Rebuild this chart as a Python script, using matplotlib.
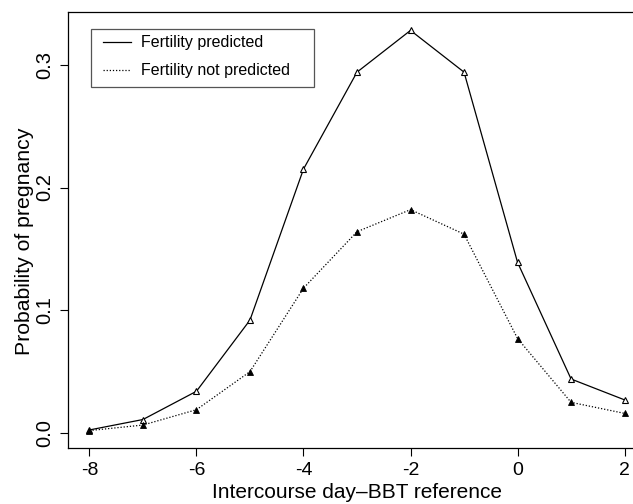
import matplotlib
matplotlib.use("Agg")
import matplotlib.pyplot as plt
from matplotlib.patches import Rectangle
from matplotlib.lines import Line2D

days = [-8, -7, -6, -5, -4, -3, -2, -1, 0, 1, 2]
predicted = [0.0025, 0.011, 0.034, 0.092, 0.215, 0.294, 0.328, 0.294, 0.139, 0.044, 0.027]
not_predicted = [0.002, 0.0065, 0.019, 0.050, 0.118, 0.164, 0.182, 0.162, 0.077, 0.025, 0.016]
xticks = [-8, -6, -4, -2, 0, 2]
yticks = [0.0, 0.1, 0.2, 0.3]
ytick_labels = ["0.0", "0.1", "0.2", "0.3"]
legend_labels = ["Fertility predicted", "Fertility not predicted"]

plt.rcParams['font.family'] = ['Liberation Sans', 'DejaVu Sans']

W, H = 633, 504
fig = plt.figure(figsize=(W / 100, H / 100), dpi=100)
ax = fig.add_axes([68 / W, 56 / H, 578 / W, 436 / H])

ax.plot(days, predicted, color='black', lw=0.9, linestyle='-',
        marker='^', markersize=5, markerfacecolor='white', markeredgecolor='black',
        markeredgewidth=0.8)
ax.plot(days, not_predicted, color='black', lw=0.9, linestyle=(0, (1, 1.5)),
        marker='^', markersize=5, markerfacecolor='black', markeredgecolor='black',
        markeredgewidth=0.6)

ax.set_xlim(-8.4, 2.4)
ax.set_ylim(-0.0122, 0.343)
ax.set_xticks(xticks)
ax.set_xticklabels([str(t) for t in xticks], fontsize=14)
ax.set_yticks(yticks)
ax.set_yticklabels(ytick_labels, fontsize=14.5, rotation=90, va='center')
ax.tick_params(direction='out', length=6, width=0.8, pad=4)

for s in ax.spines.values():
    s.set_linewidth(0.9)

ax.set_xlabel('Intercourse day\u2013BBT reference', fontsize=15, labelpad=3)
ax.set_ylabel('Probability of pregnancy', fontsize=15.3)
ax.yaxis.set_label_coords(-34 / 578, 0.5 - 11 / 436)

# legend drawn in figure pixel coordinates
def fx(px):
    return px / W

def fy(py):
    return 1 - py / H

box = Rectangle((fx(91), fy(87)), fx(314) - fx(91), fy(29) - fy(87),
                transform=fig.transFigure, facecolor='white', edgecolor='#555555',
                linewidth=0.9, zorder=5)
fig.patches.append(box)
styles = ['-', (0, (1, 1.5))]
rows = [42, 70]
for lab, ls, r in zip(legend_labels, styles, rows):
    fig.lines.append(Line2D([fx(103), fx(131)], [fy(r), fy(r)], color='black', lw=0.9,
                            linestyle=ls, transform=fig.transFigure, zorder=6))
    fig.text(fx(141), fy(r), lab, fontsize=11.5, va='center', ha='left', zorder=6)

fig.savefig('out.png', dpi=100)
